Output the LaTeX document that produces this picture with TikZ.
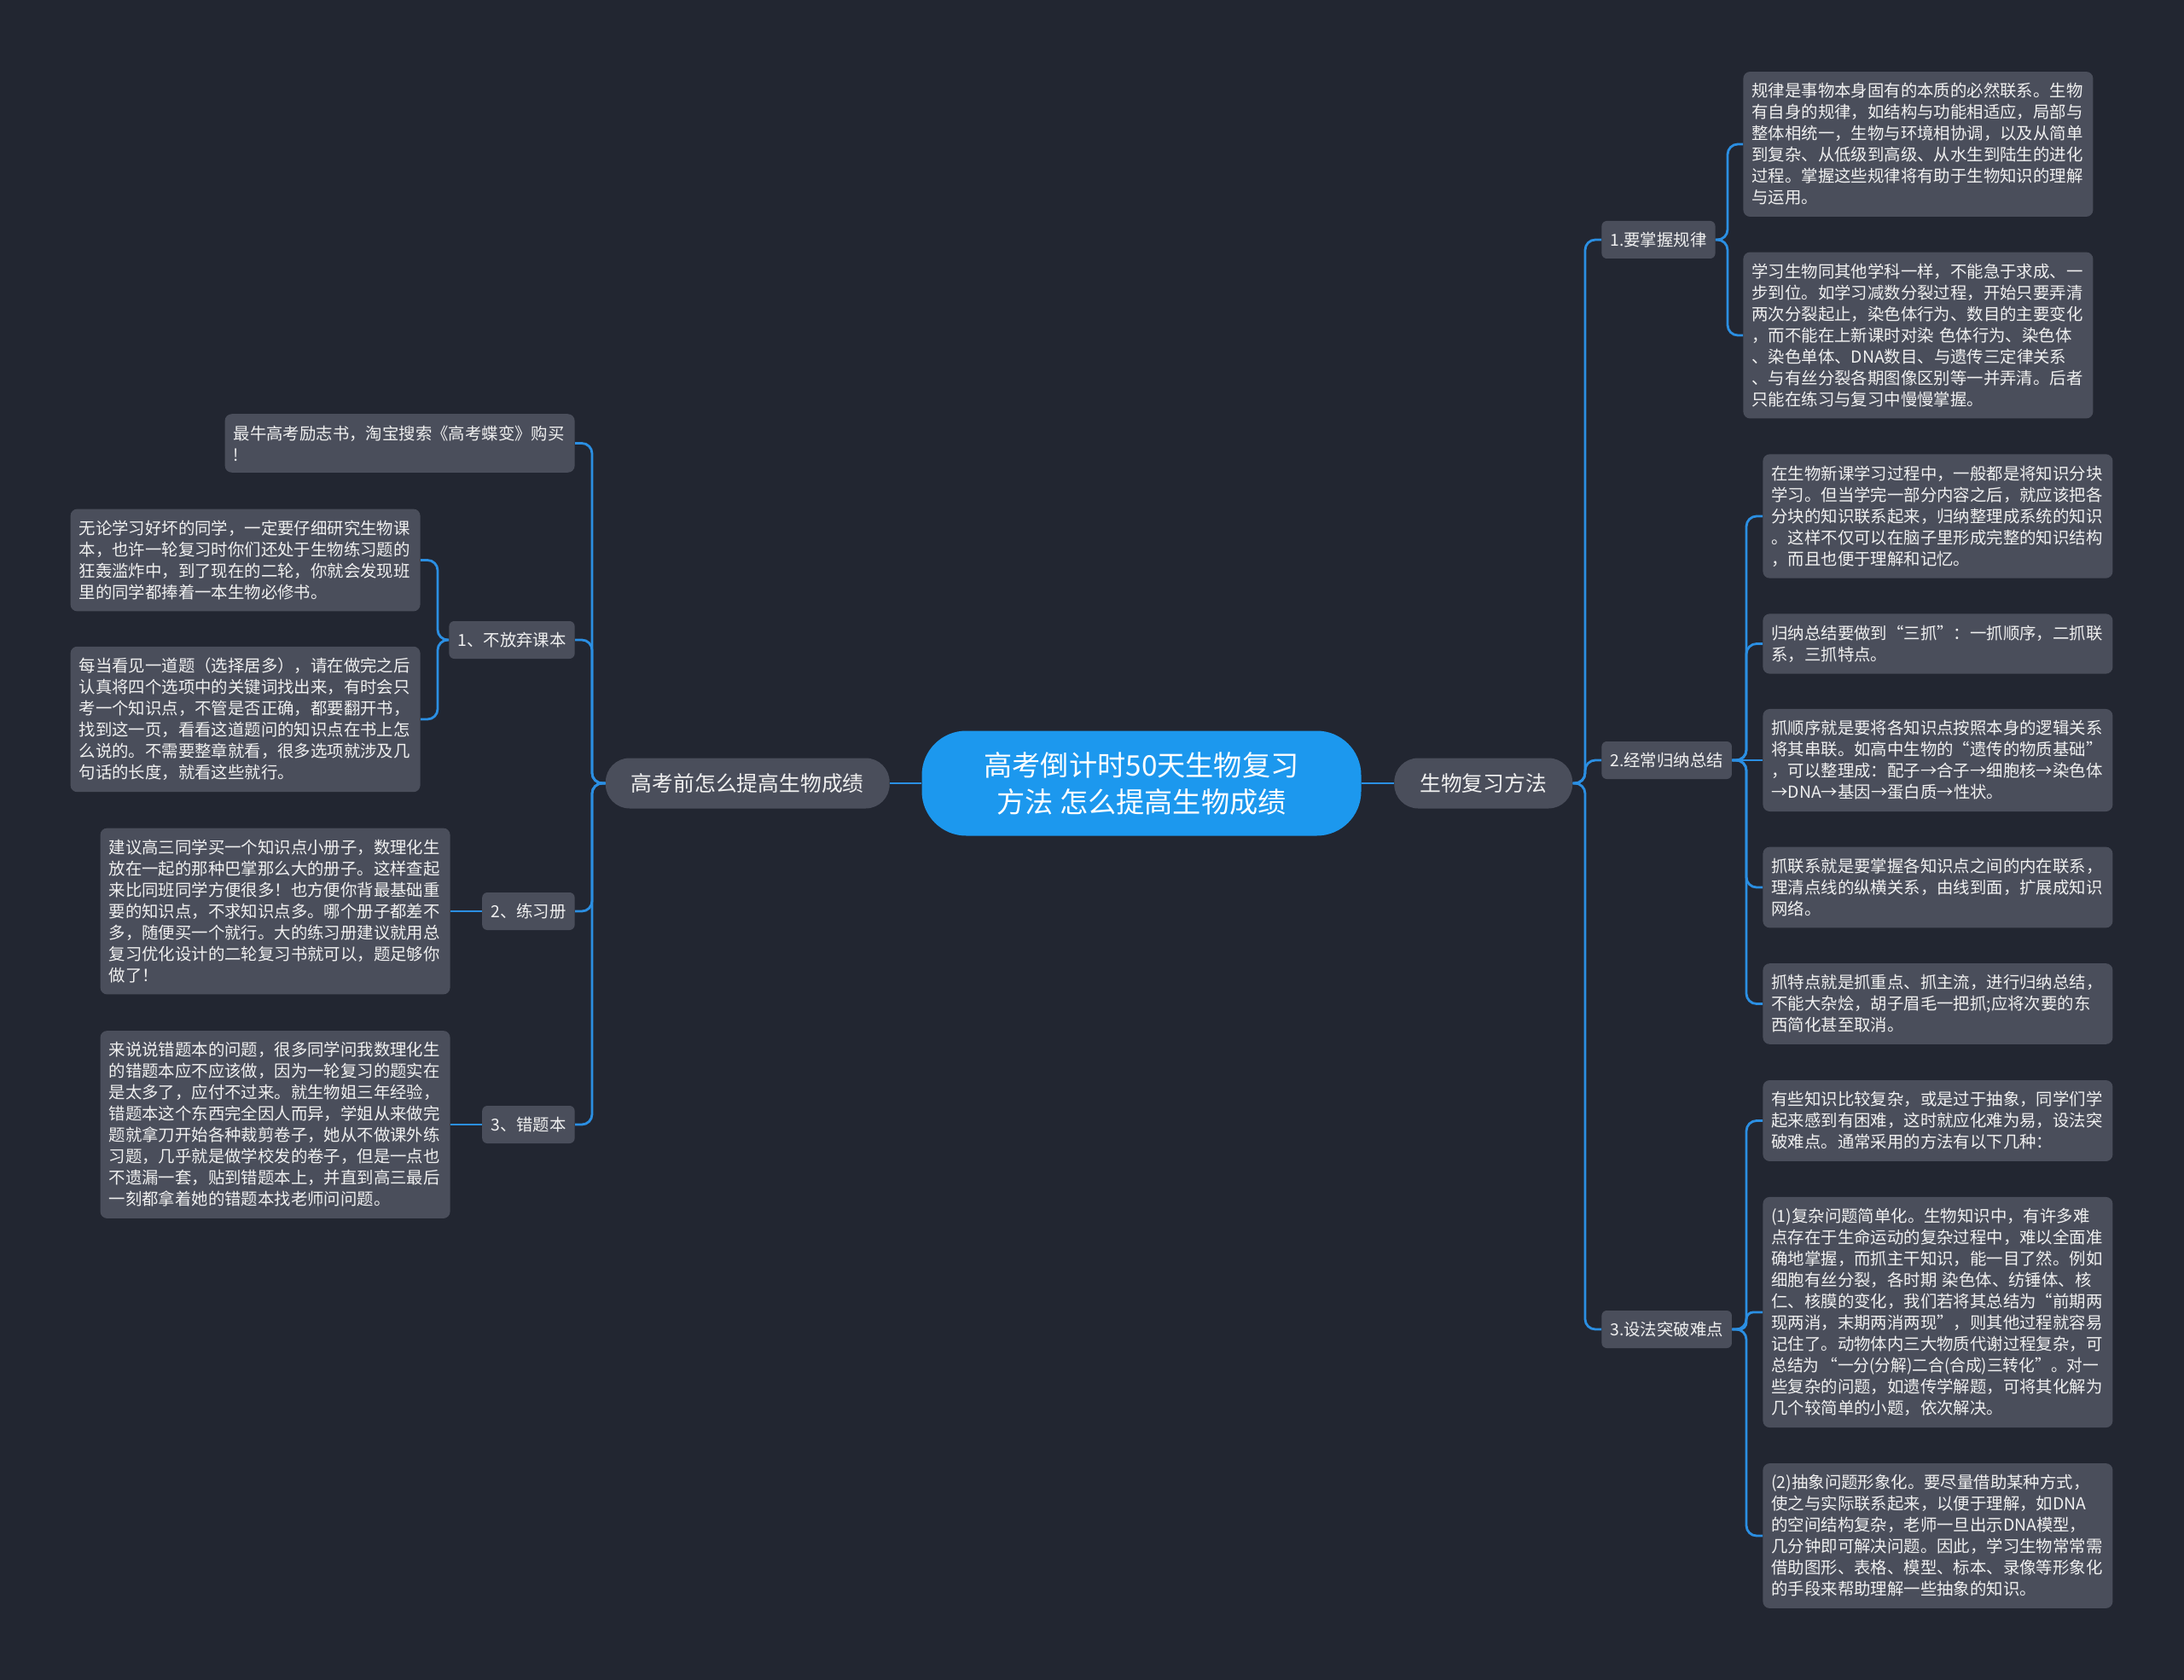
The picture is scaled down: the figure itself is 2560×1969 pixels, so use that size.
\documentclass[tikz,border=0pt]{standalone}
\usepackage{fontspec}
\usepackage{graphicx}
\setmainfont{Noto Sans CJK SC}
\usetikzlibrary{positioning}
\definecolor{bgdark}{HTML}{222631}
\definecolor{boxgray}{HTML}{4A4E5B}
\definecolor{linkblue}{HTML}{2B8FE3}
\definecolor{rootblue}{HTML}{1C98EE}
\definecolor{txtlight}{HTML}{F0F0F0}

\begin{document}
\begin{tikzpicture}[x=0.5pt, y=-0.5pt,
  root/.style={fill=rootblue, text=white, rounded corners=26pt, minimum width=257.5pt,
               minimum height=61.5pt, align=center, font=\fontsize{16.6}{21.5}\selectfont},
  topic/.style={fill=boxgray, text=txtlight, rounded corners=14pt, minimum height=29.5pt,
                inner xsep=15pt, font=\fontsize{12.4}{15}\selectfont},
  branch/.style={fill=boxgray, text=txtlight, rounded corners=3pt, minimum height=22pt,
                 inner xsep=5pt, font=\fontsize{9.7}{12.5}\selectfont},
  leaf/.style={fill=boxgray, text=txtlight, rounded corners=4pt, text width=195pt, align=left,
               inner xsep=5pt, inner ysep=6.7pt, font=\fontsize{9.7}{12.5}\selectfont},
  link/.style={draw=linkblue, line width=1.4pt, rounded corners=6pt}
]
\fill[bgdark] (0,0) rectangle (2560,1969);

\node[root] (root) at (1338,918) {高考倒计时50天生物复习\\方法 怎么提高生物成绩};
\node[topic, right=19pt of root] (method) {生物复习方法};
\node[topic, left=18.5pt of root]  (tips)   {高考前怎么提高生物成绩};

% right side
\node[branch, anchor=west] (rule) at (1877,281)  {1.要掌握规律};
\node[branch, anchor=west] (sum)  at (1877,891)  {2.经常归纳总结};
\node[branch, anchor=west] (hard) at (1877,1558) {3.设法突破难点};

\node[leaf, anchor=west] (rule1) at (2043,169) {规律是事物本身固有的本质的必然联系。生物\\
有自身的规律，如结构与功能相适应，局部与\\
整体相统一，生物与环境相协调，以及从简单\\
到复杂、从低级到高级、从水生到陆生的进化\\
过程。掌握这些规律将有助于生物知识的理解\\
与运用。};
\node[leaf, anchor=west] (rule2) at (2043,393) {学习生物同其他学科一样，不能急于求成、一\\
步到位。如学习减数分裂过程，开始只要弄清\\
两次分裂起止，染色体行为、数目的主要变化\\
，而不能在上新课时对染~色体行为、染色体\\
、染色单体、DNA数目、与遗传三定律关系\\
、与有丝分裂各期图像区别等一并弄清。后者\\
只能在练习与复习中慢慢掌握。};

\node[leaf, anchor=west] (sum1) at (2066,605) {在生物新课学习过程中，一般都是将知识分块\\
学习。但当学完一部分内容之后，就应该把各\\
分块的知识联系起来，归纳整理成系统的知识\\
。这样不仅可以在脑子里形成完整的知识结构\\
，而且也便于理解和记忆。};
\node[leaf, anchor=west] (sum2) at (2066,754.5) {归纳总结要做到“三抓”：一抓顺序，二抓联\\
系，三抓特点。};
\node[leaf, anchor=west] (sum3) at (2066,891) {抓顺序就是要将各知识点按照本身的逻辑关系\\
将其串联。如高中生物的“遗传的物质基础”\\
，可以整理成：配子→合子→细胞核→染色体\\
→DNA→基因→蛋白质→性状。};
\node[leaf, anchor=west] (sum4) at (2066,1040) {抓联系就是要掌握各知识点之间的内在联系，\\
理清点线的纵横关系，由线到面，扩展成知识\\
网络。};
\node[leaf, anchor=west] (sum5) at (2066,1176.5) {抓特点就是抓重点、抓主流，进行归纳总结，\\
不能大杂烩，胡子眉毛一把抓;应将次要的东\\
西简化甚至取消。};

\node[leaf, anchor=west] (hard1) at (2066,1313.5) {有些知识比较复杂，或是过于抽象，同学们学\\
起来感到有困难，这时就应化难为易，设法突\\
破难点。通常采用的方法有以下几种：};
\node[leaf, anchor=west] (hard2) at (2066,1538) {(1)复杂问题简单化。生物知识中，有许多难\\
点存在于生命运动的复杂过程中，难以全面准\\
确地掌握，而抓主干知识，能一目了然。例如\\
细胞有丝分裂，各时期~染色体、纺锤体、核\\
仁、核膜的变化，我们若将其总结为“前期两\\
现两消，末期两消两现”，则其他过程就容易\\
记住了。动物体内三大物质代谢过程复杂，可\\
\scalebox{0.965}[1]{总结为\hspace{0.15em}“一分(分解)二合(合成)三转化”。对一}\\
些复杂的问题，如遗传学解题，可将其化解为\\
几个较简单的小题，依次解决。};
\node[leaf, anchor=west] (hard3) at (2066,1800) {(2)抽象问题形象化。要尽量借助某种方式，\\
使之与实际联系起来，以便于理解，如DNA\\
的空间结构复杂，老师一旦出示DNA模型，\\
几分钟即可解决问题。因此，学习生物常常需\\
借助图形、表格、模型、标本、录像等形象化\\
的手段来帮助理解一些抽象的知识。};

% left side
\node[branch, anchor=east] (book)  at (674,750)  {1、不放弃课本};
\node[branch, anchor=east] (drill) at (674,1068) {2、练习册};
\node[branch, anchor=east] (wrong) at (674,1318) {3、错题本};

\node[leaf, anchor=east] (ad) at (674,519.5) {最牛高考励志书，淘宝搜索《高考蝶变》购买\\
!};
\node[leaf, anchor=east] (book1) at (493,656.5) {无论学习好坏的同学，一定要仔细研究生物课\\
本，也许一轮复习时你们还处于生物练习题的\\
狂轰滥炸中，到了现在的二轮，你就会发现班\\
里的同学都捧着一本生物必修书。};
\node[leaf, anchor=east] (book2) at (493,843) {每当看见一道题（选择居多），请在做完之后\\
认真将四个选项中的关键词找出来，有时会只\\
考一个知识点，不管是否正确，都要翻开书，\\
找到这一页，看看这道题问的知识点在书上怎\\
么说的。不需要整章就看，很多选项就涉及几\\
句话的长度，就看这些就行。};
\node[leaf, anchor=east] (drill1) at (528,1068) {建议高三同学买一个知识点小册子，数理化生\\
放在一起的那种巴掌那么大的册子。这样查起\\
来比同班同学方便很多！也方便你背最基础重\\
要的知识点，不求知识点多。哪个册子都差不\\
多，随便买一个就行。大的练习册建议就用总\\
复习优化设计的二轮复习书就可以，题足够你\\
做了！};
\node[leaf, anchor=east] (wrong1) at (528,1318) {来说说错题本的问题，很多同学问我数理化生\\
的错题本应不应该做，因为一轮复习的题实在\\
是太多了，应付不过来。就生物姐三年经验，\\
错题本这个东西完全因人而异，学姐从来做完\\
题就拿刀开始各种裁剪卷子，她从不做课外练\\
习题，几乎就是做学校发的卷子，但是一点也\\
不遗漏一套，贴到错题本上，并直到高三最后\\
一刻都拿着她的错题本找老师问问题。};

% connectors
\coordinate (mj) at (1858,918);
\coordinate (rj) at (2025,281);
\coordinate (sj) at (2047,891);
\coordinate (hj) at (2047,1558);
\coordinate (tj) at (694,918);
\coordinate (bj) at (513,750);

\draw[link] (root.east) -- (method.west);
\draw[link] (root.west) -- (tips.east);
\foreach \n in {rule,sum,hard}
  \draw[link] (method.east) -- (mj) |- (\n.west);
\foreach \n in {rule1,rule2}
  \draw[link] (rule.east) -- (rj) |- (\n.west);
\foreach \n in {sum1,sum2,sum4,sum5}
  \draw[link] (sum.east) -- (sj) |- (\n.west);
\draw[link] (sum.east) -- (sum3.west);
\foreach \n in {hard1,hard3}
  \draw[link] (hard.east) -- (hj) |- (\n.west);
\draw[link, rounded corners=4pt] (hard.east) -- (hj) |- (hard2.west);

\foreach \n in {ad,book,drill,wrong}
  \draw[link] (tips.west) -- (tj) |- (\n.east);
\foreach \n in {book1,book2}
  \draw[link] (book.west) -- (bj) |- (\n.east);
\draw[link] (drill.west) -- (drill1.east);
\draw[link] (wrong.west) -- (wrong1.east);
\end{tikzpicture}
\end{document}
